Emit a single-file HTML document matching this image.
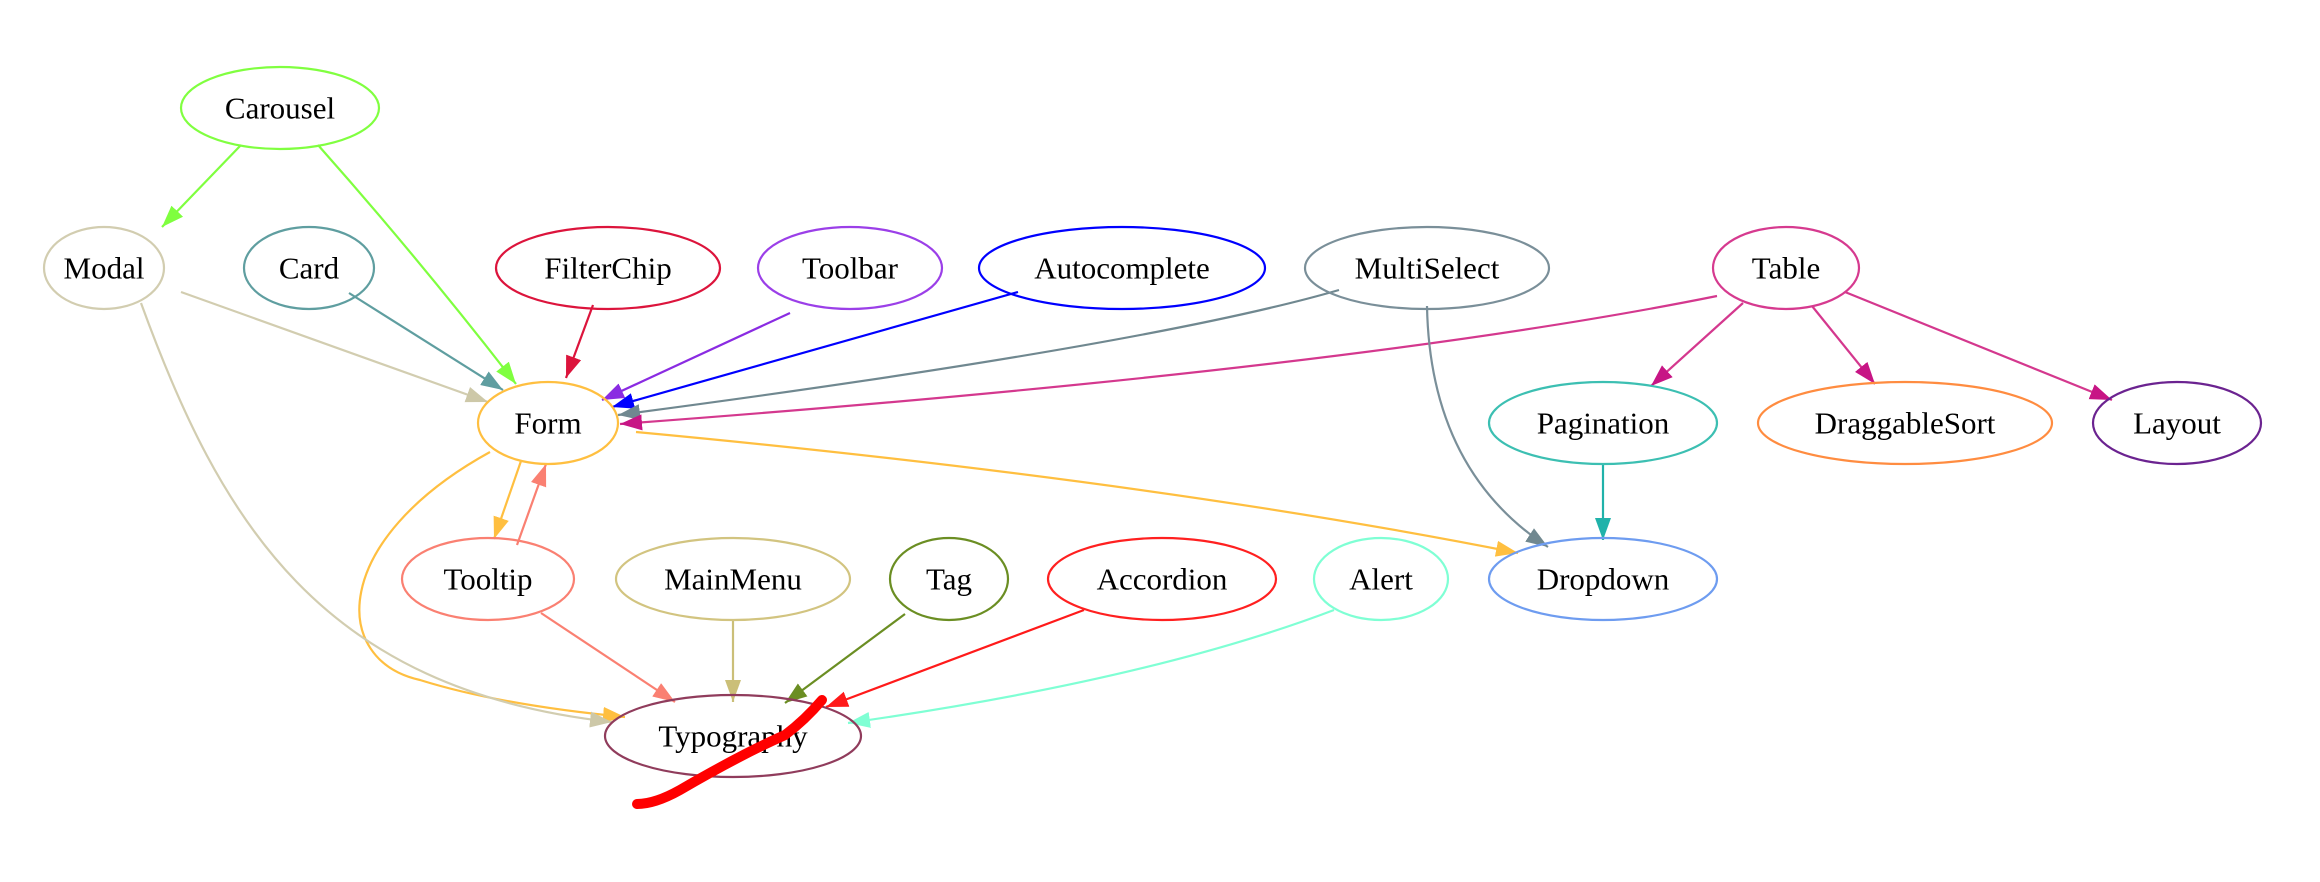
<!DOCTYPE html>
<html><head><meta charset="utf-8"><style>
html,body{margin:0;padding:0;background:#fff;}
svg{display:block;}
text{font-family:"Liberation Serif",serif;font-size:31px;fill:#000;text-anchor:middle;dominant-baseline:central;}
ellipse{fill:none;stroke-width:2.2;}
path.e{fill:none;stroke-width:2.2;}
</style></head><body>
<svg width="2320" height="882" viewBox="0 0 2320 882" xmlns="http://www.w3.org/2000/svg">
<defs>
<marker id="m1" markerUnits="userSpaceOnUse" markerWidth="24" markerHeight="18" refX="22" refY="8" orient="auto"><path d="M0,0 L22,8 L0,16z" fill="#7fff3f"/></marker>
<marker id="m2" markerUnits="userSpaceOnUse" markerWidth="24" markerHeight="18" refX="22" refY="8" orient="auto"><path d="M0,0 L22,8 L0,16z" fill="#cdc8a8"/></marker>
<marker id="m3" markerUnits="userSpaceOnUse" markerWidth="24" markerHeight="18" refX="22" refY="8" orient="auto"><path d="M0,0 L22,8 L0,16z" fill="#5f9ea0"/></marker>
<marker id="m4" markerUnits="userSpaceOnUse" markerWidth="24" markerHeight="18" refX="22" refY="8" orient="auto"><path d="M0,0 L22,8 L0,16z" fill="#dc143c"/></marker>
<marker id="m5" markerUnits="userSpaceOnUse" markerWidth="24" markerHeight="18" refX="22" refY="8" orient="auto"><path d="M0,0 L22,8 L0,16z" fill="#8a2be2"/></marker>
<marker id="m6" markerUnits="userSpaceOnUse" markerWidth="24" markerHeight="18" refX="22" refY="8" orient="auto"><path d="M0,0 L22,8 L0,16z" fill="#0000ff"/></marker>
<marker id="m7" markerUnits="userSpaceOnUse" markerWidth="24" markerHeight="18" refX="22" refY="8" orient="auto"><path d="M0,0 L22,8 L0,16z" fill="#708890"/></marker>
<marker id="m8" markerUnits="userSpaceOnUse" markerWidth="24" markerHeight="18" refX="22" refY="8" orient="auto"><path d="M0,0 L22,8 L0,16z" fill="#c71585"/></marker>
<marker id="m9" markerUnits="userSpaceOnUse" markerWidth="24" markerHeight="18" refX="22" refY="8" orient="auto"><path d="M0,0 L22,8 L0,16z" fill="#20b2aa"/></marker>
<marker id="m10" markerUnits="userSpaceOnUse" markerWidth="24" markerHeight="18" refX="22" refY="8" orient="auto"><path d="M0,0 L22,8 L0,16z" fill="#ffbf40"/></marker>
<marker id="m11" markerUnits="userSpaceOnUse" markerWidth="24" markerHeight="18" refX="22" refY="8" orient="auto"><path d="M0,0 L22,8 L0,16z" fill="#fa8072"/></marker>
<marker id="m12" markerUnits="userSpaceOnUse" markerWidth="24" markerHeight="18" refX="22" refY="8" orient="auto"><path d="M0,0 L22,8 L0,16z" fill="#cbbf78"/></marker>
<marker id="m13" markerUnits="userSpaceOnUse" markerWidth="24" markerHeight="18" refX="22" refY="8" orient="auto"><path d="M0,0 L22,8 L0,16z" fill="#6b8e23"/></marker>
<marker id="m14" markerUnits="userSpaceOnUse" markerWidth="24" markerHeight="18" refX="22" refY="8" orient="auto"><path d="M0,0 L22,8 L0,16z" fill="#ff1a1a"/></marker>
<marker id="m15" markerUnits="userSpaceOnUse" markerWidth="24" markerHeight="18" refX="22" refY="8" orient="auto"><path d="M0,0 L22,8 L0,16z" fill="#7fffd4"/></marker>
</defs>

<!-- edges -->
<path class="e" stroke="#7fff3f" d="M241,145 L162,227" marker-end="url(#m1)"/>
<path class="e" stroke="#7fff3f" d="M318,145 Q420,260 516,384" marker-end="url(#m1)"/>
<path class="e" stroke="#d2cdb0" d="M181,292 L488,402" marker-end="url(#m2)"/>
<path class="e" stroke="#5f9ea0" d="M349,293 L503,390" marker-end="url(#m3)"/>
<path class="e" stroke="#dc143c" d="M593,305 L566,378" marker-end="url(#m4)"/>
<path class="e" stroke="#8a2be2" d="M790,313 L602,400" marker-end="url(#m5)"/>
<path class="e" stroke="#0000ff" d="M1018,292 L612,407" marker-end="url(#m6)"/>
<path class="e" stroke="#708890" d="M1339,290 Q1150,345 618,415" marker-end="url(#m7)"/>
<path class="e" stroke="#d4388e" d="M1717,296 Q1350,370 620,424" marker-end="url(#m8)"/>
<path class="e" stroke="#d4388e" d="M1743,303 L1651,386" marker-end="url(#m8)"/>
<path class="e" stroke="#d4388e" d="M1812,306 L1875,384" marker-end="url(#m8)"/>
<path class="e" stroke="#d4388e" d="M1845,292 L2112,400" marker-end="url(#m8)"/>
<path class="e" stroke="#7a8f99" d="M1427,306 Q1430,470 1548,547" marker-end="url(#m7)"/>
<path class="e" stroke="#20b2aa" d="M1603,464 L1603,540" marker-end="url(#m9)"/>
<path class="e" stroke="#ffbf40" d="M636,432 Q1150,480 1518,553" marker-end="url(#m10)"/>
<path class="e" stroke="#ffbf40" d="M521,461 L494,539" marker-end="url(#m10)"/>
<path class="e" stroke="#fa8072" d="M517,545 L546,464" marker-end="url(#m11)"/>
<path class="e" stroke="#ffbf40" d="M490,452 C330,540 330,660 420,680 Q500,705 625,717" marker-end="url(#m10)"/>
<path class="e" stroke="#d2cdb0" d="M141,303 C220,520 320,690 612,722" marker-end="url(#m2)"/>
<path class="e" stroke="#fa8072" d="M541,613 L675,702" marker-end="url(#m11)"/>
<path class="e" stroke="#cbbf78" d="M733,620 L733,702" marker-end="url(#m12)"/>
<path class="e" stroke="#6b8e23" d="M905,614 L785,703" marker-end="url(#m13)"/>
<path class="e" stroke="#ff1a1a" d="M1084,610 L826,707" marker-end="url(#m14)"/>
<path class="e" stroke="#7fffd4" d="M1334,610 Q1150,680 848,723" marker-end="url(#m15)"/>

<!-- nodes -->
<ellipse cx="280" cy="108" rx="99" ry="41" stroke="#80ff40"/><text x="280" y="108">Carousel</text>
<ellipse cx="104" cy="268" rx="60" ry="41" stroke="#d2cdb0"/><text x="104" y="268">Modal</text>
<ellipse cx="309" cy="268" rx="65" ry="41" stroke="#5f9ea0"/><text x="309" y="268">Card</text>
<ellipse cx="608" cy="268" rx="112" ry="41" stroke="#dc143c"/><text x="608" y="268">FilterChip</text>
<ellipse cx="850" cy="268" rx="92" ry="41" stroke="#9b3fe8"/><text x="850" y="268">Toolbar</text>
<ellipse cx="1122" cy="268" rx="143" ry="41" stroke="#0000ff"/><text x="1122" y="268">Autocomplete</text>
<ellipse cx="1427" cy="268" rx="122" ry="41" stroke="#7a8f99"/><text x="1427" y="268">MultiSelect</text>
<ellipse cx="1786" cy="268" rx="73" ry="41" stroke="#d63a8f"/><text x="1786" y="268">Table</text>
<ellipse cx="548" cy="423" rx="70" ry="41" stroke="#ffbf40"/><text x="548" y="423">Form</text>
<ellipse cx="1603" cy="423" rx="114" ry="41" stroke="#3cbfb2"/><text x="1603" y="423">Pagination</text>
<ellipse cx="1905" cy="423" rx="147" ry="41" stroke="#ff8c40"/><text x="1905" y="423">DraggableSort</text>
<ellipse cx="2177" cy="423" rx="84" ry="41" stroke="#6b2390"/><text x="2177" y="423">Layout</text>
<ellipse cx="488" cy="579" rx="86" ry="41" stroke="#fa8072"/><text x="488" y="579">Tooltip</text>
<ellipse cx="733" cy="579" rx="117" ry="41" stroke="#d2c480"/><text x="733" y="579">MainMenu</text>
<ellipse cx="949" cy="579" rx="59" ry="41" stroke="#6b8e23"/><text x="949" y="579">Tag</text>
<ellipse cx="1162" cy="579" rx="114" ry="41" stroke="#ff2020"/><text x="1162" y="579">Accordion</text>
<ellipse cx="1381" cy="579" rx="67" ry="41" stroke="#7fffd4"/><text x="1381" y="579">Alert</text>
<ellipse cx="1603" cy="579" rx="114" ry="41" stroke="#6e9cf0"/><text x="1603" y="579">Dropdown</text>
<ellipse cx="733" cy="736" rx="128" ry="41" stroke="#903c5c"/><text x="733" y="736">Typography</text>

<!-- red scribble -->
<path d="M637,804 Q655,804 680,790 Q740,755 785,735 Q805,720 822,700" fill="none" stroke="#ff0000" stroke-width="10" stroke-linecap="round"/>
</svg>
</body></html>
